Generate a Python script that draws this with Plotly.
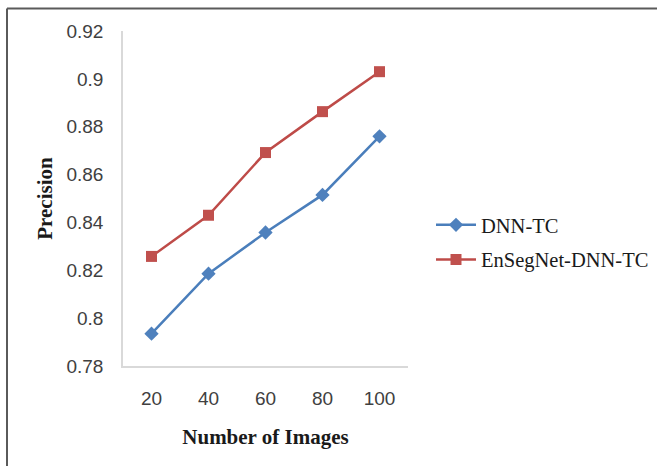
import plotly.graph_objects as go

categories = ["20", "40", "60", "80", "100"]
dnn_tc = [0.7935, 0.8186, 0.8358, 0.8515, 0.876]
ensegnet = [0.8258, 0.8430, 0.8692, 0.8863, 0.9030]
y_ticks = [0.78, 0.8, 0.82, 0.84, 0.86, 0.88, 0.9, 0.92]
y_tick_text = ["0.78", "0.8", "0.82", "0.84", "0.86", "0.88", "0.9", "0.92"]

W, H = 657, 466
L, R, T, B = 123, 249, 31, 100
pw, ph = W - L - R, H - T - B

def px_to_paper_x(px):
    return (px - L) / pw

def px_to_paper_y(py):
    return (H - B - py) / ph

fig = go.Figure()
fig.add_trace(go.Scatter(
    x=categories, y=dnn_tc, name="DNN-TC", mode="lines+markers",
    line=dict(color="#4A7EBB", width=2.5),
    marker=dict(symbol="diamond", size=11, color="#4F81BD"),
    legendgroup="a"))
fig.add_trace(go.Scatter(
    x=categories, y=ensegnet, name="EnSegNet-DNN-TC", mode="lines+markers",
    line=dict(color="#BE4B48", width=2.5),
    marker=dict(symbol="square", size=11, color="#C0504D"),
    legendgroup="b"))

fig.update_layout(
    width=W, height=H,
    margin=dict(l=L, r=R, t=T, b=B, autoexpand=False),
    paper_bgcolor="white", plot_bgcolor="white",
    showlegend=True,
    legend=dict(x=px_to_paper_x(431), y=px_to_paper_y(205), xanchor="left", yanchor="top",
                font=dict(family="Liberation Serif", size=20.5, color="#1a1a1a"),
                traceorder="grouped", tracegroupgap=5, bgcolor="rgba(0,0,0,0)",
                itemwidth=40),
    xaxis=dict(type="category", range=[-0.5, 4.5], showgrid=False, zeroline=False,
               showline=True, linecolor="#D9D9D9", linewidth=1.5, ticks="",
               automargin=False,
               tickfont=dict(family="Liberation Sans", size=19, color="#404040"),
               ticklabelstandoff=14,
               title=dict(text="<b>Number of Images</b>", standoff=22,
                          font=dict(family="Liberation Serif", size=21, color="#1a1a1a"))),
    yaxis=dict(range=[0.78, 0.92], tickvals=y_ticks, ticktext=y_tick_text,
               showgrid=False, zeroline=False, automargin=False,
               showline=True, linecolor="#D9D9D9", linewidth=1.5, ticks="",
               tickfont=dict(family="Liberation Sans", size=19, color="#404040"),
               ticklabelstandoff=14,
               title=dict(text="<b>Precision</b>", standoff=8,
                          font=dict(family="Liberation Serif", size=21, color="#1a1a1a"))),
    shapes=[
        dict(type="line", xref="paper", yref="paper",
             x0=px_to_paper_x(7), x1=px_to_paper_x(700), y0=px_to_paper_y(8.5), y1=px_to_paper_y(8.5),
             line=dict(color="#5a5a5a", width=2)),
        dict(type="line", xref="paper", yref="paper",
             x0=px_to_paper_x(7), x1=px_to_paper_x(7), y0=px_to_paper_y(8.5), y1=px_to_paper_y(500),
             line=dict(color="#5a5a5a", width=2)),
    ],
)

fig.write_html("out.html")
